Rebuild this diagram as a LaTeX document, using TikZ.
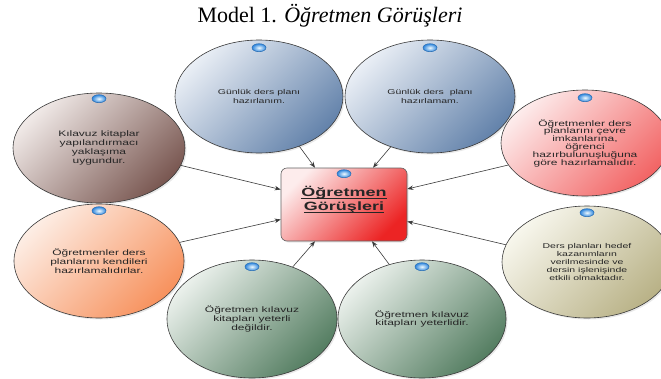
\documentclass[tikz,border=0pt]{standalone}
\usepackage{fontspec}
\usetikzlibrary{shapes.geometric, arrows.meta, shadows}

\newfontfamily\titlefont{Liberation Serif}
\newfontfamily\bubfont[FakeStretch=1.5]{Liberation Sans}
\newcommand\hubline[1]{\underline{\smash{#1}}}

\definecolor{edge}{HTML}{3A3A3A}
\definecolor{txt}{HTML}{262626}
\definecolor{blueL}{HTML}{E9EEF5}
\definecolor{blueD}{HTML}{6483AB}
\definecolor{brownL}{HTML}{F0E9E7}
\definecolor{brownD}{HTML}{7A5852}
\definecolor{redL}{HTML}{FDEBEB}
\definecolor{redD}{HTML}{F26565}
\definecolor{orangeL}{HTML}{FDEDE4}
\definecolor{orangeD}{HTML}{F7925E}
\definecolor{oliveL}{HTML}{F7F6EC}
\definecolor{oliveD}{HTML}{B9B287}
\definecolor{greenL}{HTML}{EAF0EB}
\definecolor{greenD}{HTML}{557E62}
\definecolor{hubL}{HTML}{FDECEC}
\definecolor{hubD}{HTML}{EC2424}
\definecolor{dotL}{HTML}{EFFAFF}
\definecolor{dotD}{HTML}{2F86DD}

\begin{document}
\begin{tikzpicture}[x=1pt, y=-1pt,
  bub/.style={ellipse, draw=edge, line width=0.6pt, inner sep=0pt,
    align=center, text=txt, font=\bubfont\fontsize{8}{8.8}\selectfont,
    drop shadow={opacity=0.18, shadow xshift=1.5pt, shadow yshift=-1.5pt}},
  tint/.style 2 args={top color=#1, bottom color=#2, shading angle=45},
  dot/.style={ellipse, draw=dotD!80!black, line width=0.5pt, inner sep=0pt,
    minimum width=14pt, minimum height=8pt, inner color=dotL, outer color=dotD},
  link/.style={draw=edge, line width=0.6pt, -{Stealth[length=6pt, width=4.5pt]}}]

\useasboundingbox (0,0) rectangle (661,378);

\node[anchor=base, font=\titlefont\fontsize{22}{24}\selectfont] (title) at (330,22.7)
  {Model 1. \textit{Öğretmen Görüşleri}};

\node[bub, tint={blueL}{blueD}, minimum width=168pt, minimum height=113pt,
  font=\bubfont\fontsize{7}{8.2}\selectfont] (gl) at (259,96.5)
  {Günlük ders planı\\hazırlanım.};
\node[bub, tint={blueL}{blueD}, minimum width=170pt, minimum height=113pt,
  font=\bubfont\fontsize{7}{8.2}\selectfont] (gm) at (430,96.5)
  {Günlük ders\ \ planı\\hazırlamam.};
\node[bub, tint={brownL}{brownD}, minimum width=172pt, minimum height=110pt] (kk) at (99,148)
  {Kılavuz kitaplar\\yapılandırmacı\\yaklaşıma\\uygundur.};
\node[bub, tint={redL}{redD}, minimum width=168pt, minimum height=106pt,
  font=\bubfont\fontsize{8}{7.8}\selectfont] (oc) at (585,143)
  {Öğretmenler ders\\planlarını çevre\\imkanlarına,\\öğrenci\\hazırbulunuşluğuna\\göre hazırlamalıdır.};
\node[bub, tint={orangeL}{orangeD}, minimum width=170pt, minimum height=114pt] (ok) at (99,261)
  {Öğretmenler ders\\planlarını kendileri\\hazırlamalıdırlar.};
\node[bub, tint={oliveL}{oliveD}, minimum width=170pt, minimum height=112pt,
  font=\bubfont\fontsize{7}{8}\selectfont] (dp) at (587,262)
  {Ders planları hedef\\kazanımların\\verilmesinde ve\\dersin işlenişinde\\etkili olmaktadır.};
\node[bub, tint={greenL}{greenD}, minimum width=170pt, minimum height=118pt] (yd) at (252,319)
  {Öğretmen kılavuz\\kitapları yeterli\\değildir.};
\node[bub, tint={greenL}{greenD}, minimum width=168pt, minimum height=118pt] (yl) at (422,319)
  {Öğretmen kılavuz\\kitapları yeterlidir.};

\node[rectangle, rounded corners=6pt, draw=edge!80, line width=0.6pt,
  top color=hubL, bottom color=hubD, shading angle=45,
  minimum width=126pt, minimum height=73pt, align=center, text=txt,
  font=\bubfont\bfseries\fontsize{12}{14}\selectfont,
  drop shadow={opacity=0.18, shadow xshift=1.5pt, shadow yshift=-1.5pt}] (hub) at (344,204.5)
  {\hubline{Öğretmen}\\\hubline{Görüşleri}};

\node[dot] (gl-d) at ([yshift=-8pt]gl.north) {};
\node[dot] (gm-d) at ([yshift=-8pt]gm.north) {};
\node[dot] (kk-d) at ([yshift=-6pt]kk.north) {};
\node[dot] (oc-d) at ([yshift=-8pt]oc.north) {};
\node[dot] (ok-d) at ([yshift=-7pt]ok.north) {};
\node[dot] (dp-d) at ([yshift=-7pt]dp.north) {};
\node[dot] (yd-d) at ([yshift=-7pt]yd.north) {};
\node[dot] (yl-d) at ([yshift=-7pt]yl.north) {};
\node[dot] (hub-d) at ([yshift=-6pt]hub.north) {};

\draw[link] (gl.-51) -- ([xshift=-29pt]hub.north);
\draw[link] (gm.-128) -- ([xshift=29pt]hub.north);
\draw[link] (kk.-12) -- ([yshift=15pt]hub.west);
\draw[link] (oc.196) -- ([yshift=15.5pt]hub.east);
\draw[link] (ok.13) -- ([yshift=-15pt]hub.west);
\draw[link] (dp.168) -- ([yshift=-17pt]hub.east);
\draw[link] (yd.52) -- ([xshift=-29pt]hub.south);
\draw[link] (yl.121) -- ([xshift=28pt]hub.south);
\end{tikzpicture}
\end{document}
